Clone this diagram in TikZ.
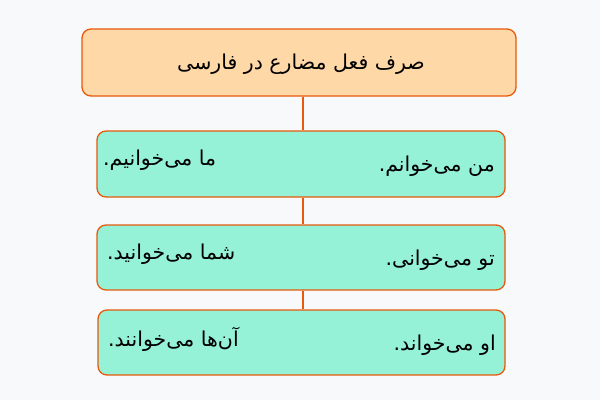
\documentclass[tikz,border=0pt]{standalone}
\usepackage{fontspec}
\newfontfamily\arabicfont[Script=Arabic]{DejaVu Sans}
\TeXXeTstate=1
\definecolor{bg}{HTML}{F8F9FB}
\definecolor{peach}{HTML}{FFD8A8}
\definecolor{mint}{HTML}{96F2D7}
\definecolor{edge}{HTML}{E8590C}
\begin{document}
\begin{tikzpicture}[x=1pt,y=-1pt,
  box/.style={draw=edge,line width=1.3pt,rounded corners=9pt,inner sep=0pt},
  link/.style={draw=edge,line width=1.2pt},
  lbl/.style={font=\arabicfont\fontsize{20.5}{24}\selectfont,inner sep=0pt,text=black}]
\fill[bg] (0,0) rectangle (600,400);
\useasboundingbox (0,0) rectangle (600,400);
\node[box,fill=peach,minimum width=434pt,minimum height=67pt] (title) at (299,62.5) {};
\node[box,fill=mint,minimum width=408pt,minimum height=66pt] (r1) at (301,164) {};
\node[box,fill=mint,minimum width=408pt,minimum height=65pt] (r2) at (301,257.5) {};
\node[box,fill=mint,minimum width=407pt,minimum height=65pt] (r3) at (301.5,342.5) {};
\draw[link] (title.south -| 303,0) -- (r1.north -| 303,0);
\draw[link] (r1.south -| 303,0) -- (r2.north -| 303,0);
\draw[link] (r2.south -| 303,0) -- (r3.north -| 303,0);
\node[lbl] (t) at (301,64.5) {\beginR صرف فعل مضارع در فارسی\endR};
\node[lbl,anchor=east] (a1) at (495,166) {\beginR من می‌خوانم.\endR};
\node[lbl,anchor=west] (b1) at (103,160) {\beginR ما می‌خوانیم.\endR};
\node[lbl,anchor=east] (a2) at (495,260) {\beginR تو می‌خوانی.\endR};
\node[lbl,anchor=west] (b2) at (107,254) {\beginR شما می‌خوانید.\endR};
\node[lbl,anchor=east] (a3) at (496,345) {\beginR او می‌خواند.\endR};
\node[lbl,anchor=west] (b3) at (108,339) {\beginR آن‌ها می‌خوانند.\endR};
\end{tikzpicture}
\end{document}
